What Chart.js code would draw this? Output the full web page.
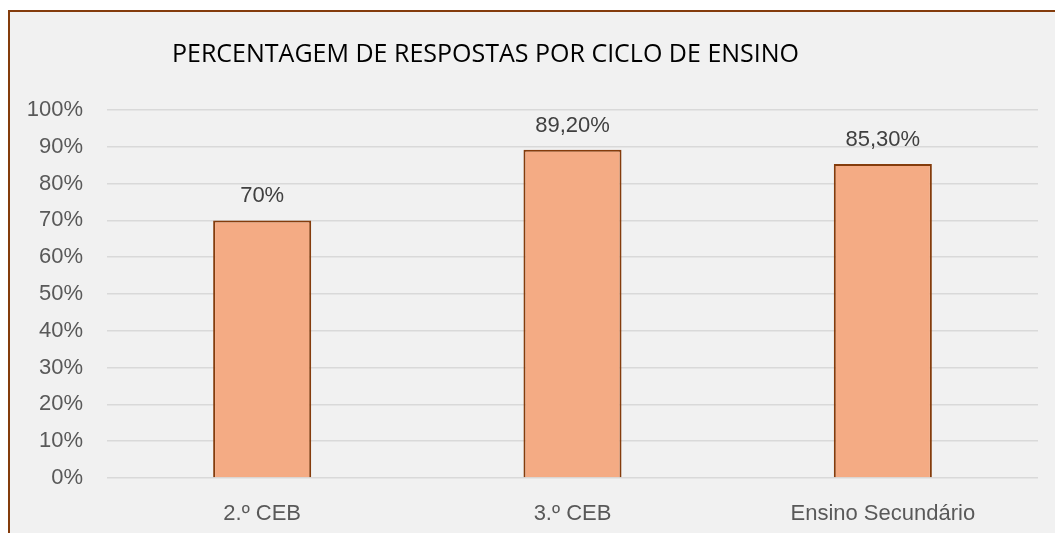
<!DOCTYPE html>
<html>
<head>
<meta charset="utf-8">
<script src="https://cdn.jsdelivr.net/npm/chart.js@4"></script>
<style>
  html, body { margin: 0; padding: 0; background: #fff; }
  #frame {
    position: absolute; left: 8px; top: 10px;
    width: 1100px; height: 600px;
    background: #f1f1f1; border: 2px solid #843c0c;
  }
  #wrap { position: absolute; left: 0; top: 0; width: 1055px; height: 533px; }
</style>
</head>
<body>
<div id="frame"></div>
<div id="wrap"><canvas id="chart-bars" width="1055" height="533"></canvas></div>
<script>
// Data
var categories = ['2.º CEB', '3.º CEB', 'Ensino Secundário'];
var values = [70, 89.2, 85.3];
var valueLabels = ['70%', '89,20%', '85,30%'];
var yTicks = [0, 10, 20, 30, 40, 50, 60, 70, 80, 90, 100];
var chartTitle = 'PERCENTAGEM DE RESPOSTAS POR CICLO DE ENSINO';

var labelFont = '"Liberation Sans", Arial, sans-serif';

// Title + value labels
var extras = {
    id: 'extras',
    afterDraw: function (chart) {
        var ctx = chart.ctx;
        ctx.save();
        ctx.fillStyle = '#000';
        ctx.font = '25px "Open Sans", sans-serif';
        ctx.textAlign = 'left';
        ctx.textBaseline = 'middle';
        ctx.fillText(chartTitle, 172, 55);

        ctx.fillStyle = '#404040';
        ctx.font = '22px ' + labelFont;
        ctx.textAlign = 'center';
        ctx.textBaseline = 'alphabetic';
        chart.getDatasetMeta(0).data.forEach(function (bar, i) {
            ctx.fillText(valueLabels[i], bar.x, bar.y - 18);
        });
        ctx.restore();
    }
};

new Chart(document.getElementById('chart-bars').getContext('2d'), {
    type: 'bar',
    data: {
        labels: categories,
        datasets: [{
            data: values,
            backgroundColor: '#f4ab84',
            borderColor: '#843c0c',
            borderWidth: 2,
            barPercentage: 0.316,
            categoryPercentage: 1
        }]
    },
    options: {
        responsive: false,
        animation: false,
        layout: { padding: { top: 110, right: 17, left: 0, bottom: 0 } },
        plugins: { legend: { display: false }, tooltip: { enabled: false } },
        scales: {
            x: {
                grid: { display: false },
                border: { display: false },
                ticks: { color: '#595959', padding: 15, font: { size: 22, family: labelFont } },
                afterFit: function (s) { s.height = 55; }
            },
            y: {
                min: 0, max: 100,
                afterBuildTicks: function (s) { s.ticks = yTicks.map(function (v) { return { value: v }; }); },
                grid: { color: '#d9d9d9', lineWidth: 1.5, drawTicks: false },
                border: { display: false },
                ticks: {
                    color: '#595959', padding: 24,
                    font: { size: 22, family: labelFont },
                    callback: function (v) { return v + '%'; }
                },
                afterFit: function (s) { s.width = 107; }
            }
        }
    },
    plugins: [extras]
});
</script>
</body>
</html>
